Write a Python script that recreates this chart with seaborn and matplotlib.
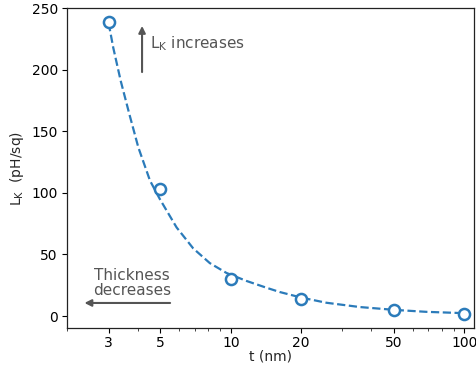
import matplotlib
matplotlib.use("Agg")
import matplotlib.pyplot as plt
import seaborn as sns
import pandas as pd
from matplotlib.ticker import FixedLocator, FixedFormatter, LogLocator, NullFormatter

# measured points
thickness_nm = [3, 5, 10, 20, 50, 100]
lk_values = [239, 103, 30, 14, 4.5, 2]

# dashed fit curve
curve_t = [3.0, 3.14, 3.38, 3.68, 4.02, 4.51, 4.97, 5.86, 6.9, 8.13, 9.58,
           11.67, 14.2, 16.2, 20, 25.6, 35.6, 50, 68.6, 100]
curve_lk = [238, 218, 191, 164, 137, 110, 95, 72, 55, 43, 35,
            28.5, 23, 19.5, 15, 10.8, 7.3, 5.0, 3.4, 2.3]

xticks = [3, 5, 10, 20, 50, 100]
xtick_labels = ["3", "5", "10", "20", "50", "100"]
yticks = [0, 50, 100, 150, 200, 250]

sns.set_style("ticks")
plt.rcParams['font.family'] = ['DejaVu Sans']

fig = plt.figure(figsize=(4.77, 3.65), dpi=100)
ax = fig.add_axes([0.1415, 0.1005, 0.8525, 0.8765])

blue = "#2b7bba"
curve_df = pd.DataFrame({"t": curve_t, "lk": curve_lk})
pts_df = pd.DataFrame({"t": thickness_nm, "lk": lk_values})

sns.lineplot(data=curve_df, x="t", y="lk", ax=ax, color=blue, linestyle="--",
             linewidth=1.6, dashes=False, sort=True)
sns.lineplot(data=pts_df, x="t", y="lk", ax=ax, color=blue, linestyle="",
             marker="o", markersize=8, markerfacecolor="white",
             markeredgecolor=blue, markeredgewidth=1.8)

ax.set_xscale("log")
ax.set_xlim(2, 110)
ax.set_ylim(-10, 250)
ax.xaxis.set_major_locator(FixedLocator(xticks))
ax.xaxis.set_major_formatter(FixedFormatter(xtick_labels))
ax.xaxis.set_minor_locator(LogLocator(base=10, subs=range(1, 10)))
ax.xaxis.set_minor_formatter(NullFormatter())
ax.set_yticks(yticks)
ax.tick_params(axis="both", labelsize=10, colors="black")
ax.tick_params(axis="x", pad=2)
ax.tick_params(which="major", length=3.5, width=0.8)
ax.tick_params(which="minor", length=2, width=0.6)

for s in ax.spines.values():
    s.set_visible(True)
    s.set_linewidth(0.9)
    s.set_color("#222222")

ax.set_xlabel("t (nm)", fontsize=10, labelpad=0)
ax.set_ylabel("L$_\\mathregular{K}$  (pH/sq)", fontsize=10, labelpad=4)

gray = "#555555"
ax.annotate("", xy=(4.17, 238), xytext=(4.17, 196),
            arrowprops=dict(arrowstyle="-|>", color=gray, lw=1.5, mutation_scale=10))
ax.text(4.5, 221, "L$_\\mathregular{K}$ increases", color=gray, fontsize=11,
        ha="left", va="center")

ax.annotate("", xy=(2.3, 10.6), xytext=(5.65, 10.6),
            arrowprops=dict(arrowstyle="-|>", color=gray, lw=1.5, mutation_scale=10))
ax.text(3.78, 27, "Thickness\ndecreases", color=gray, fontsize=11,
        ha="center", va="center", linespacing=1.0)

fig.savefig("out.png", dpi=100)
